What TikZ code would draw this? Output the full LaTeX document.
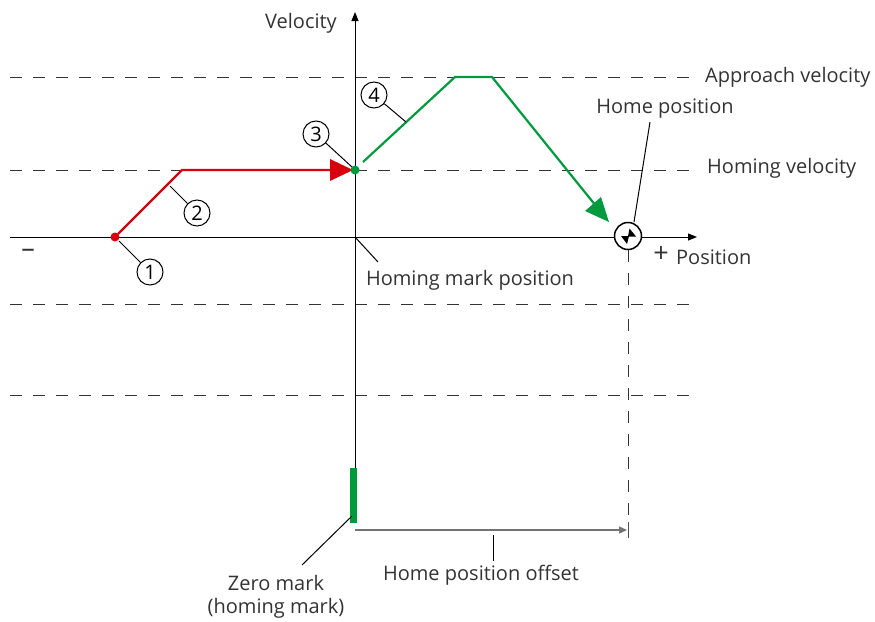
\documentclass[tikz,border=0pt]{standalone}
\usepackage{fontspec}
\setmainfont{Open Sans}
\usetikzlibrary{arrows.meta}
\definecolor{txt}{HTML}{333333}
\definecolor{sred}{HTML}{D7000F}
\definecolor{sgreen}{HTML}{009A3E}
\begin{document}
\begin{tikzpicture}[x=1pt,y=-1pt,
  lbl/.style={font=\fontsize{20}{24}\selectfont,text=txt,inner sep=0pt},
  sign/.style={font=\fontsize{27}{30}\selectfont,text=txt,inner sep=0pt},
  dashline/.style={draw=black!80,line width=0.8pt,dash pattern=on 12pt off 11pt},
  axis/.style={draw=black,line width=1pt},
  num/.style={circle,draw=black,line width=1pt,fill=white,minimum size=26pt,inner sep=0pt,font=\fontsize{20}{22}\selectfont},
  leader/.style={draw=black,line width=1pt},
  redpath/.style={draw=sred,line width=2.2pt},
  greenpath/.style={draw=sgreen,line width=2.2pt}]
\useasboundingbox (0,0) rectangle (875,621);
% dashed levels
\draw[dashline] (10,77) -- (690,77);
\draw[dashline] (10,170) -- (690,170);
\draw[dashline] (10,304) -- (695,304);
\draw[dashline] (10,395) -- (695,395);
\draw[dashline] (628,250) -- (628,535);
% axes
\coordinate (orig) at (355,237);
\draw[axis,-{Triangle[length=9pt,width=7pt]}] (10,237) -- (697,237);
\draw[axis,-{Triangle[length=9pt,width=7pt]}] (355,522) -- (355,12);
% zero mark
\fill[sgreen] (350,468) rectangle (357,523);
% red path
\coordinate (p1) at (115,237);
\coordinate (p2) at (182,170);
\coordinate (p3) at (355,170);
\draw[redpath] (118,234) -- (p2) -- (332,170);
\fill[sred] (353,170) -- (330,159) -- (330,181) -- cycle;
\fill[sred] (p1) circle (4.5pt);
% green path
\coordinate (g1) at (455,77);
\coordinate (g2) at (492,77);
\draw[greenpath] (363,162) -- (g1) -- (g2) -- (596,206);
\fill[sgreen] (609,222) -- (585,211) -- (601,197) -- cycle;
\fill[sgreen] (p3) circle (4.5pt);
% home position symbol
\node[circle,draw=black,line width=1.5pt,fill=white,minimum size=27pt,inner sep=0pt] (home) at (628,236) {};
\fill[black] (629.5,228.5) -- (628,236.5) -- (636,236.5) -- cycle;
\fill[black] (629,236) -- (621,236) -- (627,244) -- cycle;
% numbered callouts
\node[num] (n1) at (150,272) {1};
\draw[leader] (119,241) -- (n1);
\node[num] (n2) at (197,213) {2};
\draw[leader] (170,186) -- (n2);
\node[num] (n3) at (316,134) {3};
\draw[leader] (352,167) -- (n3);
\node[num] (n4) at (374,95) {4};
\draw[leader] (406,122) -- (n4);
% texts
\node[lbl] (vel) at (301,23) {Velocity};
\node[sign] (minus) at (28,253) {–};
\node[sign] (plus) at (661,254) {+};
\node[lbl,anchor=west] (pos) at (676,257) {Position};
\node[lbl,anchor=west] (appr) at (705,77) {Approach velocity};
\node[lbl,anchor=west] (homv) at (707,168) {Homing velocity};
\node[lbl] (homep) at (665,109) {Home position};
\draw[leader] (650,122) -- (634,222);
\node[lbl] (hmp) at (470,280) {Homing mark position};
\draw[leader] (orig) -- (378,262);
\node[lbl,align=center] (zm) at (276,597) {Zero mark\\[-1pt](homing mark)};
\draw[leader] (302,565) -- (352,516);
\node[lbl] (hpo) at (481,575) {Home position offset};
\draw[draw=black!55,line width=1.3pt,-{Triangle[length=8pt,width=7pt]}] (355,530) -- (627,530);
\draw[draw=black!70,line width=1pt] (628,522) -- (628,538);
\draw[leader] (493,535) -- (493,561);
\end{tikzpicture}
\end{document}
